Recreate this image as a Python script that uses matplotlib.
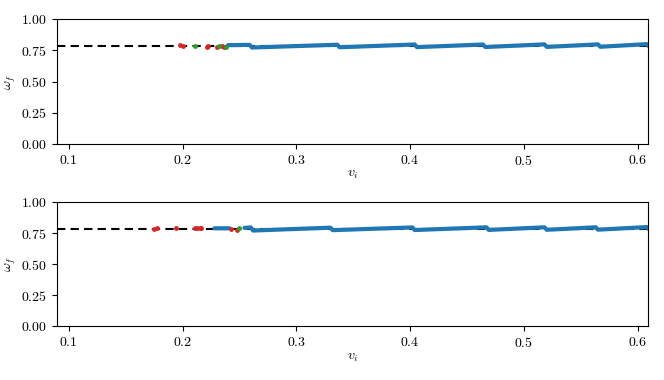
import numpy as np
import matplotlib
matplotlib.use('Agg')
from matplotlib import pyplot as plt

plt.rcParams['font.family'] = 'serif'
plt.rcParams['font.serif'] = ['cmr10', 'DejaVu Serif']
plt.rcParams['mathtext.fontset'] = 'cm'
plt.rcParams['axes.formatter.use_mathtext'] = True
plt.rcParams['font.size'] = 10

w_ref = 0.785  # dashed reference level

# top panel
v_top = [0.240, 0.259, 0.261, 0.336, 0.338, 0.404, 0.406, 0.464, 0.466,
         0.518, 0.520, 0.565, 0.567, 0.608, 0.610]
w_top = [0.791, 0.793, 0.772, 0.794, 0.774, 0.796, 0.775, 0.796, 0.776,
         0.797, 0.777, 0.797, 0.778, 0.799, 0.780]
red_top_v = [0.1975, 0.2002, 0.2213, 0.2222, 0.2300, 0.2348, 0.2368]
red_top_w = [0.792, 0.786, 0.774, 0.786, 0.774, 0.786, 0.778]
green_top_v = [0.2113, 0.2318, 0.2383]
green_top_w = [0.786, 0.786, 0.776]

# bottom panel
v_bot = [0.228, 0.2412, np.nan, 0.2544, 0.260, 0.262, 0.330, 0.332, 0.402,
         0.404, 0.467, 0.469, 0.518, 0.520, 0.563, 0.565, 0.608, 0.610]
w_bot = [0.789, 0.789, np.nan, 0.792, 0.796, 0.771, 0.794, 0.774, 0.796,
         0.775, 0.797, 0.776, 0.797, 0.777, 0.797, 0.778, 0.799, 0.780]
red_bot_v = [0.1753, 0.1773, 0.1944, 0.2106, 0.2130, 0.2150, 0.2165, 0.2427, 0.2477]
red_bot_w = [0.787, 0.789, 0.792, 0.791, 0.792, 0.790, 0.791, 0.787, 0.778]
green_bot_v = [0.2500]
green_bot_w = [0.788]

xticks = [0.1, 0.2, 0.3, 0.4, 0.5, 0.6]
yticks = [0.0, 0.25, 0.5, 0.75, 1.0]

fig = plt.figure(figsize=(6.64, 3.8), dpi=100)
ax1 = fig.add_axes([0.0858, 0.621, 0.8902, 0.329])
ax2 = fig.add_axes([0.0858, 0.142, 0.8902, 0.326])

panels = [(ax1, v_top, w_top, red_top_v, red_top_w, green_top_v, green_top_w),
          (ax2, v_bot, w_bot, red_bot_v, red_bot_w, green_bot_v, green_bot_w)]

for ax, vb, wb, rv, rw, gv, gw in panels:
    ax.axhline(w_ref, color='black', ls='--', lw=1.5, dashes=(4, 2.5), zorder=1)
    ax.plot(vb, wb, color='#1f77b4', lw=3, solid_capstyle='round', zorder=2)
    ax.plot(rv, rw, 'o', color='#d62728', ms=3.5, mew=0, zorder=3)
    ax.plot(gv, gw, 'o', color='#2ca02c', ms=3.5, mew=0, zorder=3)
    ax.set_xlim(0.0897, 0.609)
    ax.set_ylim(0, 1)
    ax.set_xticks(xticks)
    ax.set_yticks(yticks)
    ax.set_xlabel(r'$v_i$', labelpad=1)
    ax.set_ylabel(r'$\omega_f$', labelpad=2)

fig.savefig('out.png', dpi=100)
